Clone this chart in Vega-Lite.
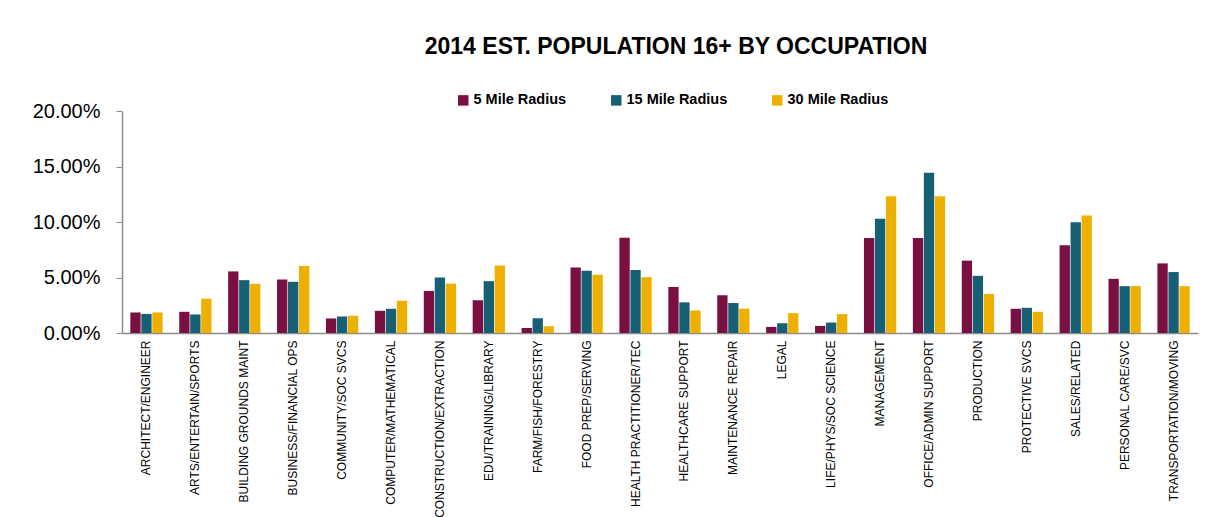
{
  "$schema": "https://vega.github.io/schema/vega-lite/v6.json",
  "width": 1076,
  "height": 222,
  "autosize": {"type": "none"},
  "padding": {"left": 122, "top": 111, "right": 16, "bottom": 184},
  "background": "white",
  "title": {
    "text": "2014 EST. POPULATION 16+ BY OCCUPATION",
    "font": "Liberation Sans",
    "fontSize": 23,
    "fontWeight": "bold",
    "color": "#000000",
    "anchor": "middle",
    "frame": "group",
    "dx": 16,
    "offset": 34
  },
  "data": {
    "values": [
      {"occ": "ARCHITECT/ENGINEER", "series": "5 Mile Radius", "value": 0.0185},
      {"occ": "ARCHITECT/ENGINEER", "series": "15 Mile Radius", "value": 0.0172},
      {"occ": "ARCHITECT/ENGINEER", "series": "30 Mile Radius", "value": 0.0185},
      {"occ": "ARTS/ENTERTAIN/SPORTS", "series": "5 Mile Radius", "value": 0.0191},
      {"occ": "ARTS/ENTERTAIN/SPORTS", "series": "15 Mile Radius", "value": 0.0167},
      {"occ": "ARTS/ENTERTAIN/SPORTS", "series": "30 Mile Radius", "value": 0.0309},
      {"occ": "BUILDING GROUNDS MAINT", "series": "5 Mile Radius", "value": 0.0555},
      {"occ": "BUILDING GROUNDS MAINT", "series": "15 Mile Radius", "value": 0.0476},
      {"occ": "BUILDING GROUNDS MAINT", "series": "30 Mile Radius", "value": 0.0443},
      {"occ": "BUSINESS/FINANCIAL OPS", "series": "5 Mile Radius", "value": 0.0482},
      {"occ": "BUSINESS/FINANCIAL OPS", "series": "15 Mile Radius", "value": 0.0461},
      {"occ": "BUSINESS/FINANCIAL OPS", "series": "30 Mile Radius", "value": 0.0604},
      {"occ": "COMMUNITY/SOC SVCS", "series": "5 Mile Radius", "value": 0.0131},
      {"occ": "COMMUNITY/SOC SVCS", "series": "15 Mile Radius", "value": 0.0149},
      {"occ": "COMMUNITY/SOC SVCS", "series": "30 Mile Radius", "value": 0.0155},
      {"occ": "COMPUTER/MATHEMATICAL", "series": "5 Mile Radius", "value": 0.0200},
      {"occ": "COMPUTER/MATHEMATICAL", "series": "15 Mile Radius", "value": 0.0218},
      {"occ": "COMPUTER/MATHEMATICAL", "series": "30 Mile Radius", "value": 0.0291},
      {"occ": "CONSTRUCTION/EXTRACTION", "series": "5 Mile Radius", "value": 0.0379},
      {"occ": "CONSTRUCTION/EXTRACTION", "series": "15 Mile Radius", "value": 0.0500},
      {"occ": "CONSTRUCTION/EXTRACTION", "series": "30 Mile Radius", "value": 0.0445},
      {"occ": "EDU/TRAINING/LIBRARY", "series": "5 Mile Radius", "value": 0.0295},
      {"occ": "EDU/TRAINING/LIBRARY", "series": "15 Mile Radius", "value": 0.0467},
      {"occ": "EDU/TRAINING/LIBRARY", "series": "30 Mile Radius", "value": 0.0609},
      {"occ": "FARM/FISH/FORESTRY", "series": "5 Mile Radius", "value": 0.0045},
      {"occ": "FARM/FISH/FORESTRY", "series": "15 Mile Radius", "value": 0.0134},
      {"occ": "FARM/FISH/FORESTRY", "series": "30 Mile Radius", "value": 0.0061},
      {"occ": "FOOD PREP/SERVING", "series": "5 Mile Radius", "value": 0.0591},
      {"occ": "FOOD PREP/SERVING", "series": "15 Mile Radius", "value": 0.0561},
      {"occ": "FOOD PREP/SERVING", "series": "30 Mile Radius", "value": 0.0525},
      {"occ": "HEALTH PRACTITIONER/TEC", "series": "5 Mile Radius", "value": 0.0858},
      {"occ": "HEALTH PRACTITIONER/TEC", "series": "15 Mile Radius", "value": 0.0567},
      {"occ": "HEALTH PRACTITIONER/TEC", "series": "30 Mile Radius", "value": 0.0503},
      {"occ": "HEALTHCARE SUPPORT", "series": "5 Mile Radius", "value": 0.0415},
      {"occ": "HEALTHCARE SUPPORT", "series": "15 Mile Radius", "value": 0.0276},
      {"occ": "HEALTHCARE SUPPORT", "series": "30 Mile Radius", "value": 0.0203},
      {"occ": "MAINTENANCE REPAIR", "series": "5 Mile Radius", "value": 0.0340},
      {"occ": "MAINTENANCE REPAIR", "series": "15 Mile Radius", "value": 0.0270},
      {"occ": "MAINTENANCE REPAIR", "series": "30 Mile Radius", "value": 0.0220},
      {"occ": "LEGAL", "series": "5 Mile Radius", "value": 0.0055},
      {"occ": "LEGAL", "series": "15 Mile Radius", "value": 0.0088},
      {"occ": "LEGAL", "series": "30 Mile Radius", "value": 0.0179},
      {"occ": "LIFE/PHYS/SOC SCIENCE", "series": "5 Mile Radius", "value": 0.0064},
      {"occ": "LIFE/PHYS/SOC SCIENCE", "series": "15 Mile Radius", "value": 0.0094},
      {"occ": "LIFE/PHYS/SOC SCIENCE", "series": "30 Mile Radius", "value": 0.0170},
      {"occ": "MANAGEMENT", "series": "5 Mile Radius", "value": 0.0855},
      {"occ": "MANAGEMENT", "series": "15 Mile Radius", "value": 0.1030},
      {"occ": "MANAGEMENT", "series": "30 Mile Radius", "value": 0.1233},
      {"occ": "OFFICE/ADMIN SUPPORT", "series": "5 Mile Radius", "value": 0.0855},
      {"occ": "OFFICE/ADMIN SUPPORT", "series": "15 Mile Radius", "value": 0.1443},
      {"occ": "OFFICE/ADMIN SUPPORT", "series": "30 Mile Radius", "value": 0.1233},
      {"occ": "PRODUCTION", "series": "5 Mile Radius", "value": 0.0652},
      {"occ": "PRODUCTION", "series": "15 Mile Radius", "value": 0.0515},
      {"occ": "PRODUCTION", "series": "30 Mile Radius", "value": 0.0352},
      {"occ": "PROTECTIVE SVCS", "series": "5 Mile Radius", "value": 0.0218},
      {"occ": "PROTECTIVE SVCS", "series": "15 Mile Radius", "value": 0.0227},
      {"occ": "PROTECTIVE SVCS", "series": "30 Mile Radius", "value": 0.0191},
      {"occ": "SALES/RELATED", "series": "5 Mile Radius", "value": 0.0791},
      {"occ": "SALES/RELATED", "series": "15 Mile Radius", "value": 0.0997},
      {"occ": "SALES/RELATED", "series": "30 Mile Radius", "value": 0.1058},
      {"occ": "PERSONAL CARE/SVC", "series": "5 Mile Radius", "value": 0.0488},
      {"occ": "PERSONAL CARE/SVC", "series": "15 Mile Radius", "value": 0.0422},
      {"occ": "PERSONAL CARE/SVC", "series": "30 Mile Radius", "value": 0.0422},
      {"occ": "TRANSPORTATION/MOVING", "series": "5 Mile Radius", "value": 0.0627},
      {"occ": "TRANSPORTATION/MOVING", "series": "15 Mile Radius", "value": 0.0549},
      {"occ": "TRANSPORTATION/MOVING", "series": "30 Mile Radius", "value": 0.0422}
    ]
  },
  "mark": {"type": "bar", "stroke": null},
  "encoding": {
    "x": {
      "field": "occ",
      "type": "nominal",
      "sort": null,
      "scale": {"paddingInner": 0.34, "paddingOuter": 0.17},
      "axis": {
        "title": null,
        "labelAngle": -90,
        "labelFont": "Liberation Sans",
        "labelFontSize": 12,
        "labelColor": "#000000",
        "labelPadding": 7,
        "labelLimit": 300,
        "ticks": false,
        "domainColor": "#8c8c8c",
        "domainWidth": 1.5
      }
    },
    "xOffset": {
      "field": "series",
      "type": "nominal",
      "sort": ["5 Mile Radius", "15 Mile Radius", "30 Mile Radius"],
      "scale": {"paddingInner": 0.06}
    },
    "y": {
      "field": "value",
      "type": "quantitative",
      "scale": {"domain": [0, 0.2]},
      "axis": {
        "title": null,
        "format": ".2%",
        "values": [0, 0.05, 0.1, 0.15, 0.2],
        "grid": false,
        "labelFont": "Liberation Sans",
        "labelFontSize": 20,
        "labelColor": "#000000",
        "labelPadding": 16,
        "tickSize": 6,
        "tickColor": "#8c8c8c",
        "domainColor": "#8c8c8c",
        "domainWidth": 1.5
      }
    },
    "color": {
      "field": "series",
      "type": "nominal",
      "sort": ["5 Mile Radius", "15 Mile Radius", "30 Mile Radius"],
      "scale": {
        "domain": ["5 Mile Radius", "15 Mile Radius", "30 Mile Radius"],
        "range": ["#7a1042", "#165f74", "#eeb000"]
      },
      "legend": {
        "title": null,
        "orient": "none",
        "direction": "horizontal",
        "legendX": 334,
        "legendY": -18,
        "symbolType": "square",
        "symbolSize": 110,
        "symbolStrokeWidth": 0,
        "labelFont": "Liberation Sans",
        "labelFontSize": 14.5,
        "labelFontWeight": "bold",
        "labelColor": "#000000",
        "labelOffset": 3,
        "columnPadding": 42
      }
    }
  },
  "config": {"view": {"stroke": null}}
}
